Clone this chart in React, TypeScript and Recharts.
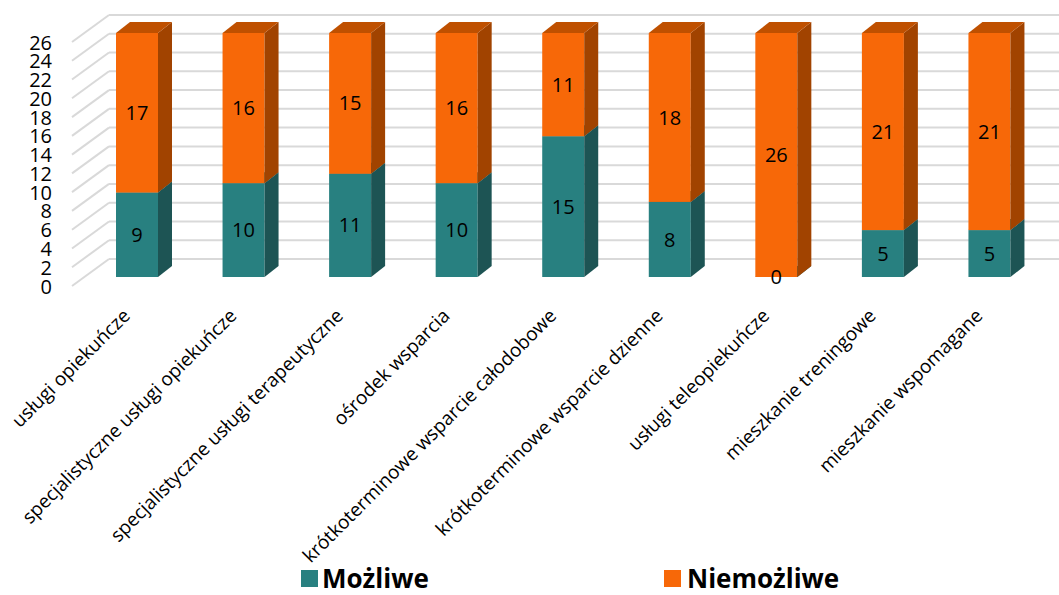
import { BarChart, Bar, XAxis, YAxis, CartesianGrid, LabelList, Legend } from "recharts"

const categories = [
  "usługi opiekuńcze",
  "specjalistyczne usługi opiekuńcze",
  "specjalistyczne usługi terapeutyczne",
  "ośrodek wsparcia",
  "krótkoterminowe wsparcie całodobowe",
  "krótkoterminowe wsparcie dzienne",
  "usługi teleopiekuńcze",
  "mieszkanie treningowe",
  "mieszkanie wspomagane",
]
const mozliwe = [9, 10, 11, 10, 15, 8, 0, 5, 5]
const niemozliwe = [17, 16, 15, 16, 11, 18, 26, 21, 21]
const yTicks = [0, 2, 4, 6, 8, 10, 12, 14, 16, 18, 20, 22, 24, 26]

const data = categories.map((name, i) => ({
  name,
  mozliwe: mozliwe[i],
  niemozliwe: niemozliwe[i],
}))

const FONT = "'Open Sans', sans-serif"
const DX = 14
const DY = 11

const TEAL = "#288080"
const TEAL_SIDE = "#1d5454"
const TEAL_TOP = "#22696a"
const ORANGE = "#f76808"
const ORANGE_SIDE = "#a14300"
const ORANGE_TOP = "#bf5000"

function Box3D(props: any) {
  const { x, y, width, height, front, side, top } = props
  const r = x + width
  const b = y + height
  return (
    <g>
      <rect x={x} y={y} width={width} height={height} fill={front} />
      <polygon points={`${r},${y} ${r + DX},${y - DY} ${r + DX},${b - DY} ${r},${b}`} fill={side} />
      <polygon points={`${x},${y} ${x + DX},${y - DY} ${r + DX},${y - DY} ${r},${y}`} fill={top} />
    </g>
  )
}

function GridLine(props: any) {
  const { y1 } = props
  const backY = y1 - 18
  return (
    <g>
      <line x1={72} y1={y1 + 9} x2={109} y2={backY} stroke="#d9d9d9" strokeWidth={2} />
      <line x1={109} y1={backY} x2={1059} y2={backY} stroke="#d9d9d9" strokeWidth={2} />
    </g>
  )
}

function YTick(props: any) {
  const { y, payload } = props
  return (
    <text x={52} y={y + 9} textAnchor="end" dominantBaseline="central" fontSize={20} fontFamily={FONT} fill="#000">
      {payload.value}
    </text>
  )
}

function XTick(props: any) {
  const { x, payload } = props
  const tx = x - 6
  const ty = 317
  return (
    <text
      x={tx}
      y={ty}
      textAnchor="end"
      fontSize={19}
      fontFamily={FONT}
      fill="#000"
      transform={`rotate(-45 ${tx} ${ty})`}
    >
      {payload.value}
    </text>
  )
}

function LegendContent(props: any) {
  const { payload } = props
  const lefts = [301, 664]
  const gaps = [4, 6]
  return (
    <div style={{ position: "relative", height: 30, width: 1059 }}>
      {(payload || []).map((p: any, i: number) => (
        <div
          key={p.value}
          style={{
            position: "absolute",
            left: lefts[i],
            top: 0,
            height: 30,
            lineHeight: "30px",
            display: "flex",
            alignItems: "center",
            fontFamily: FONT,
            fontWeight: 700,
            fontSize: 26,
            color: "#000",
            whiteSpace: "nowrap",
          }}
        >
          <span style={{ display: "inline-block", width: 17, height: 17, background: p.color, marginRight: gaps[i] }} />
          {p.value}
        </div>
      ))}
    </div>
  )
}

export default function App() {
  return (
    <div style={{ position: "absolute", left: 0, top: 0, background: "#fff" }}>
      <BarChart width={1059} height={595} data={data} margin={{ top: 33, right: 16, bottom: 0, left: 0 }}>
        <CartesianGrid vertical={false} horizontal={(p: any) => <GridLine key={p.key} {...p} />} />
        <XAxis
          dataKey="name"
          height={286}
          interval={0}
          axisLine={false}
          tickLine={false}
          tick={<XTick />}
        />
        <YAxis
          width={84}
          domain={[0, 26]}
          ticks={yTicks}
          interval={0}
          axisLine={false}
          tickLine={false}
          tick={<YTick />}
        />
        <Legend
          verticalAlign="bottom"
          height={32}
          content={<LegendContent />}
          wrapperStyle={{ left: 0, width: 1059 }}
        />
        <Bar
          dataKey="mozliwe"
          name="Możliwe"
          stackId="a"
          barSize={42}
          fill={TEAL}
          isAnimationActive={false}
          shape={(p: any) => <Box3D {...p} front={TEAL} side={TEAL_SIDE} top={TEAL_TOP} />}
        >
          <LabelList dataKey="mozliwe" position="center" fill="#000" fontSize={20} fontFamily={FONT} />
        </Bar>
        <Bar
          dataKey="niemozliwe"
          name="Niemożliwe"
          stackId="a"
          barSize={42}
          fill={ORANGE}
          isAnimationActive={false}
          shape={(p: any) => <Box3D {...p} front={ORANGE} side={ORANGE_SIDE} top={ORANGE_TOP} />}
        >
          <LabelList dataKey="niemozliwe" position="center" fill="#000" fontSize={20} fontFamily={FONT} />
        </Bar>
      </BarChart>
    </div>
  )
}
